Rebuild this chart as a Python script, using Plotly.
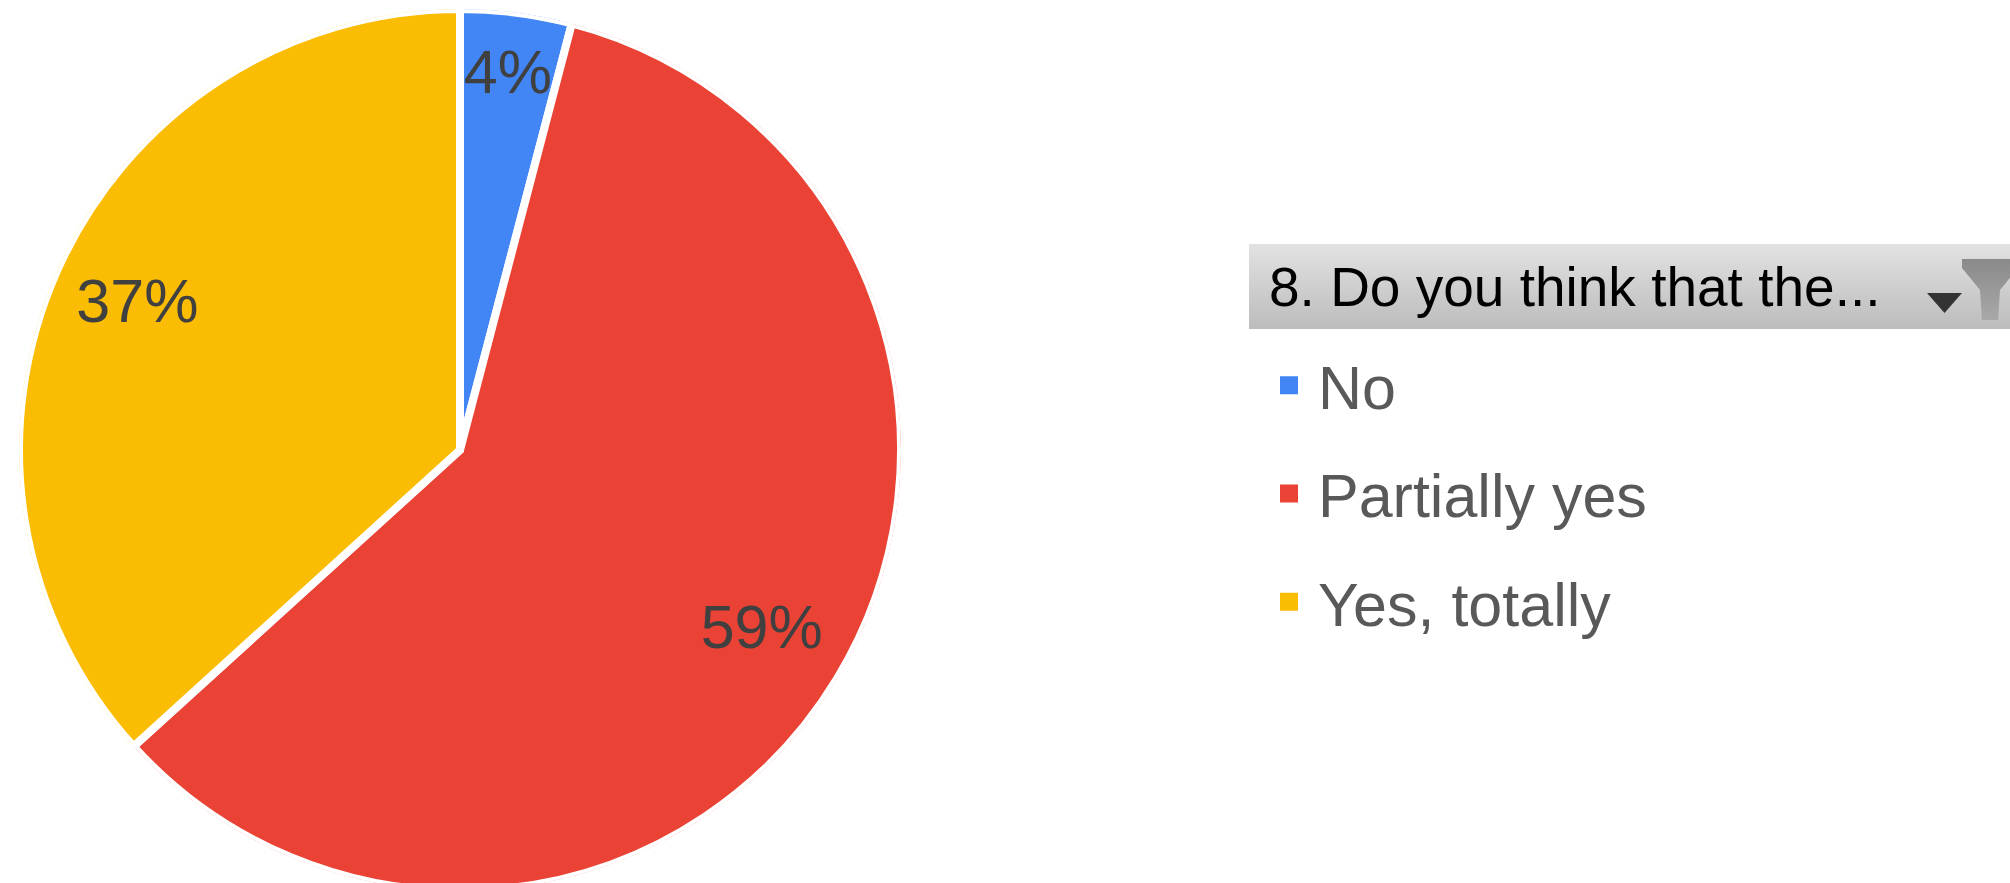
import base64
import plotly.graph_objects as go

# survey answers (counts) for question 8
labels = ["No", "Partially yes", "Yes, totally"]
counts = [2, 29, 18]
colors = ["#4285f4", "#ea4335", "#fbbc04"]
header = "8. Do you think that the..."

# figure is a bit taller than the window: the pie runs off the bottom edge
W, H = 2010, 900
FONT = "Arial, Liberation Sans, sans-serif"


def px(x):
    return x / W


def py(y):
    return 1 - y / H


total = sum(counts)
widths = [360 * c / total for c in counts]
mids = []
start = 0
for w in widths:
    mids.append(start + w / 2)
    start += w
pct_text = [f"{round(100 * c / total)}%" for c in counts]

# pie area, in pixels (centre and radius incl. the white edge)
cx, cy, r = 460, 450, 441
label_r = [0.85, 0.8, 0.8]

fig = go.Figure()
fig.add_trace(go.Barpolar(
    r=[1] * len(counts), theta=mids, width=widths,
    marker=dict(color=colors, line=dict(color="white", width=8)),
    showlegend=False, hoverinfo="skip"))
fig.add_trace(go.Scatterpolar(
    r=label_r, theta=mids, mode="text", text=pct_text,
    textfont=dict(family=FONT, size=61, color="#404040"),
    showlegend=False, hoverinfo="skip"))

# legend entries
for lab, col in zip(labels, colors):
    fig.add_trace(go.Scatter(
        x=[None], y=[None], mode="markers", name=lab, legendgroup=lab,
        marker=dict(symbol="square", size=16, color=col,
                    line=dict(color=col, width=2)),
        hoverinfo="skip"))

# grey field-button bar with the filter icon
bx0, by0, bw, bh = 1249, 244, W - 1249, 85
svg = f'''<svg xmlns="http://www.w3.org/2000/svg" width="{bw}" height="{bh}" viewBox="0 0 {bw} {bh}" preserveAspectRatio="none">
<defs><linearGradient id="g" x1="0" y1="0" x2="0" y2="1">
<stop offset="0" stop-color="#e2e2e2"/><stop offset="1" stop-color="#bcbcbc"/></linearGradient>
<linearGradient id="f" x1="0" y1="0" x2="0" y2="1">
<stop offset="0" stop-color="#8a8a8a"/><stop offset="1" stop-color="#a8a8a8"/></linearGradient></defs>
<rect width="{bw}" height="{bh}" fill="url(#g)"/>
<polygon points="678,49 713,49 695.5,69" fill="#333333"/>
<polygon points="713,15 769,15 769,24 751,46 749,76 733,76 731,46 713,24" fill="url(#f)"/>
</svg>'''
fig.add_layout_image(
    source="data:image/svg+xml;base64," + base64.b64encode(svg.encode()).decode(),
    xref="paper", yref="paper", x=px(bx0), y=py(by0),
    sizex=bw / W, sizey=bh / H, xanchor="left", yanchor="top",
    sizing="stretch", layer="below")
fig.add_annotation(
    text=header, xref="paper", yref="paper", x=px(1267), y=py(287),
    xanchor="left", yanchor="middle", showarrow=False,
    font=dict(family=FONT, size=55, color="#000000"))

fig.update_layout(
    width=W, height=H,
    margin=dict(l=0, r=0, t=0, b=0),
    paper_bgcolor="white", plot_bgcolor="white",
    xaxis=dict(visible=False), yaxis=dict(visible=False),
    polar=dict(
        domain=dict(x=[px(cx - r), px(cx + r)], y=[py(cy + r), py(cy - r)]),
        bgcolor="rgba(0,0,0,0)",
        radialaxis=dict(visible=False, range=[0, 1]),
        angularaxis=dict(visible=False, rotation=90, direction="clockwise"),
        bargap=0),
    showlegend=True,
    legend=dict(
        x=px(1260), y=py(339), xanchor="left", yanchor="top",
        bgcolor="rgba(0,0,0,0)", borderwidth=0,
        traceorder="grouped", tracegroupgap=26, itemwidth=48,
        font=dict(family=FONT, size=61, color="#595959")),
    font=dict(family=FONT),
)

# drop the page's default 8px margin and hide the part below the window
fig.write_html(
    "out.html", config={"displayModeBar": False},
    post_script="document.body.style.margin='0';"
                "document.body.style.overflow='hidden';")
